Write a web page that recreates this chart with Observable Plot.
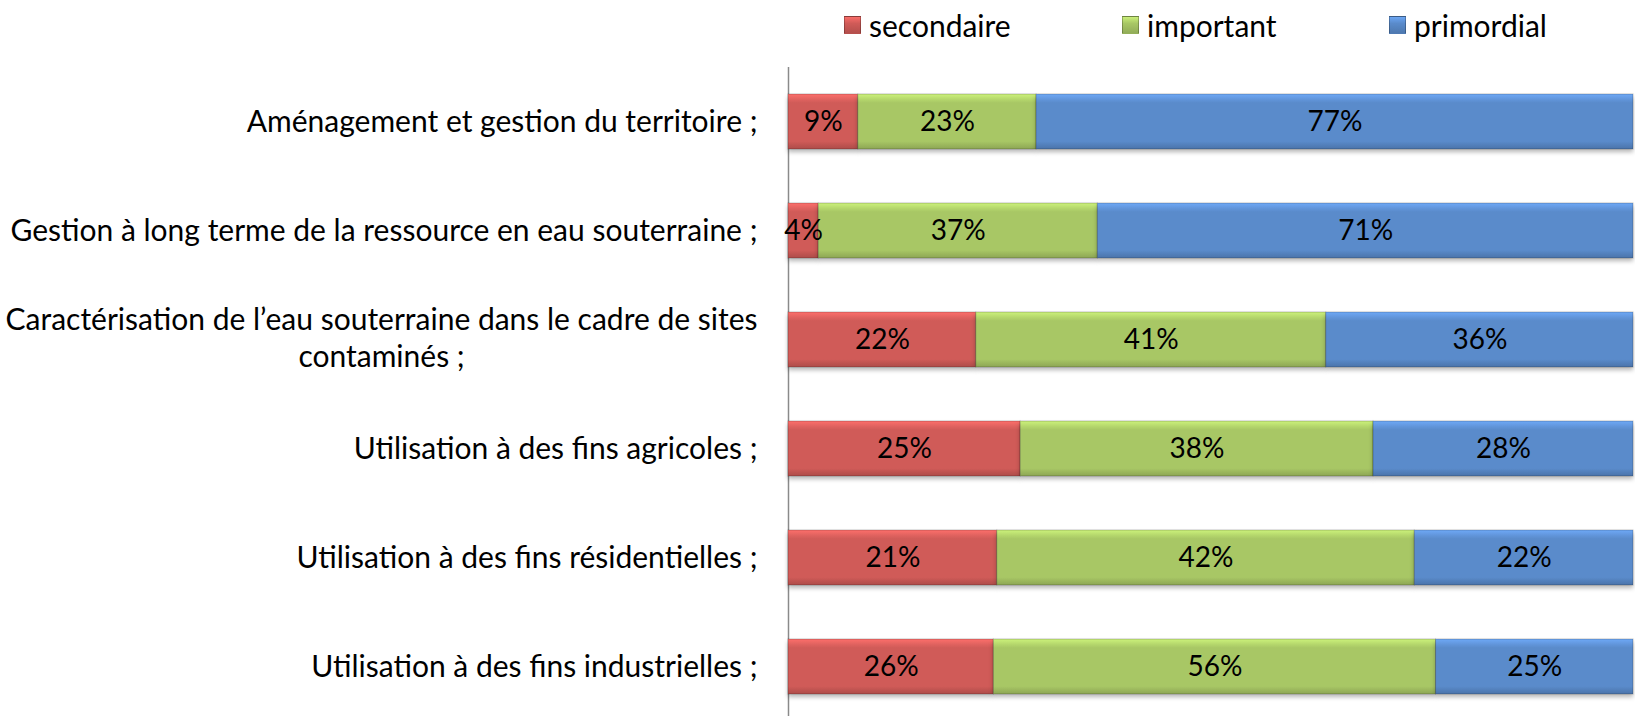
<!DOCTYPE html>
<html><head><meta charset="utf-8">
<script src="https://cdn.jsdelivr.net/npm/d3@7"></script>
<script src="https://cdn.jsdelivr.net/npm/@observablehq/plot@0.6"></script>
<style>
html,body{margin:0;padding:0;background:#fff;overflow:hidden;}
body{font-family:Lato,"Open Sans",sans-serif;color:#000;}
#legend{height:50px;display:flex;align-items:center;padding-left:844px;font-size:30px;box-sizing:border-box;}
.item{display:flex;align-items:center;}
.sw{width:17px;height:18px;margin-right:8px;box-sizing:border-box;border:1px solid rgba(0,0,0,0.25);}
.bars rect{filter:drop-shadow(0 3px 2px rgba(0,0,0,0.28));}
</style></head><body>
<div id="legend"></div><div id="chart"></div>
<script>
const categories = [
  "Aménagement et gestion du territoire ;",
  "Gestion à long terme de la ressource en eau souterraine ;",
  "Caractérisation de l’eau souterraine dans le cadre de sites\ncontaminés ;",
  "Utilisation à des fins agricoles ;",
  "Utilisation à des fins résidentielles ;",
  "Utilisation à des fins industrielles ;"
];
const series = ["secondaire", "important", "primordial"];
const secondaire = [9, 4, 22, 25, 21, 26];
const important = [23, 37, 41, 38, 42, 56];
const primordial = [77, 71, 36, 28, 22, 25];
const colors = ["#d05b58", "#a8c765", "#5a8bcb"];

const seriesValues = [secondaire, important, primordial];
const rows = categories.flatMap((c, i) => series.map((s, j) => ({cat: c, series: s, value: seriesValues[j][i]})));

const FONT = "Lato";
const LABEL_SIZE = 30;
const ctx = document.createElement("canvas").getContext("2d");
ctx.font = `${LABEL_SIZE}px ${FONT}`;
const single = categories.filter(c => !c.includes("\n"));
const multi = categories.filter(c => c.includes("\n"));

const chart = Plot.plot({
  width: 1635,
  height: 666,
  marginLeft: 788,
  marginRight: 2,
  marginTop: 17,
  marginBottom: -5,
  style: {fontFamily: FONT, fontSize: "30px", background: "#fff", color: "#000"},
  x: {axis: null, domain: [0, 1]},
  y: {axis: null, domain: categories, paddingInner: 0.495, paddingOuter: 0.2475},
  color: {domain: series, range: series.map((s, i) => `url(#grad${i})`)},
  marks: [
    Plot.ruleX([0], {stroke: "#8a8a8a", strokeWidth: 1.5}),
    Plot.barX(rows, Plot.stackX({offset: "normalize", x: "value", y: "cat", fill: "series", stroke: "rgba(0,0,0,0.22)", strokeWidth: 1, className: "bars"})),
    Plot.text(rows, Plot.stackX({offset: "normalize", x: "value", y: "cat", z: "series", text: d => d.value + "%", fontSize: 28, fill: "#000"})),
    Plot.text(single, {y: d => d, text: d => d, frameAnchor: "left", textAnchor: "end", dx: -31, fontSize: LABEL_SIZE, fill: "#000"}),
    ...multi.map(c => {
      const w = Math.max(...c.split("\n").map(l => ctx.measureText(l).width));
      return Plot.text([c], {y: d => d, text: d => d, frameAnchor: "left", textAnchor: "middle", dx: -31 - w / 2, dy: -3, lineHeight: 1.23, fontSize: LABEL_SIZE, fill: "#000"});
    })
  ]
});

// bevel-like gradients
const ns = "http://www.w3.org/2000/svg";
const svg = chart.tagName.toLowerCase() === "svg" ? chart : chart.querySelector("svg");
const defs = document.createElementNS(ns, "defs");
colors.forEach((c, i) => {
  const g = document.createElementNS(ns, "linearGradient");
  g.setAttribute("id", `grad${i}`);
  g.setAttribute("x1", "0"); g.setAttribute("y1", "0"); g.setAttribute("x2", "0"); g.setAttribute("y2", "1");
  const base = d3.color(c);
  const stops = [[0, base.brighter(0.55)], [0.1, base.brighter(0.2)], [0.16, base], [0.86, base], [0.93, base.darker(0.25)], [1, base.darker(0.5)]];
  stops.forEach(([o, col]) => {
    const s = document.createElementNS(ns, "stop");
    s.setAttribute("offset", o);
    s.setAttribute("stop-color", col.formatHex());
    g.appendChild(s);
  });
  defs.appendChild(g);
});
svg.insertBefore(defs, svg.firstChild);
document.getElementById("chart").appendChild(chart);

// legend
const legend = document.getElementById("legend");
const itemWidths = [278, 267, null];
series.forEach((s, i) => {
  const base = d3.color(colors[i]);
  const item = document.createElement("div");
  item.className = "item";
  if (itemWidths[i]) item.style.width = itemWidths[i] + "px";
  const sw = document.createElement("span");
  sw.className = "sw";
  sw.style.background = `linear-gradient(${base.brighter(0.5).formatHex()}, ${base.formatHex()} 40%, ${base.darker(0.4).formatHex()})`;
  const t = document.createElement("span");
  t.textContent = s;
  item.appendChild(sw); item.appendChild(t);
  legend.appendChild(item);
});
</script>
</body></html>
